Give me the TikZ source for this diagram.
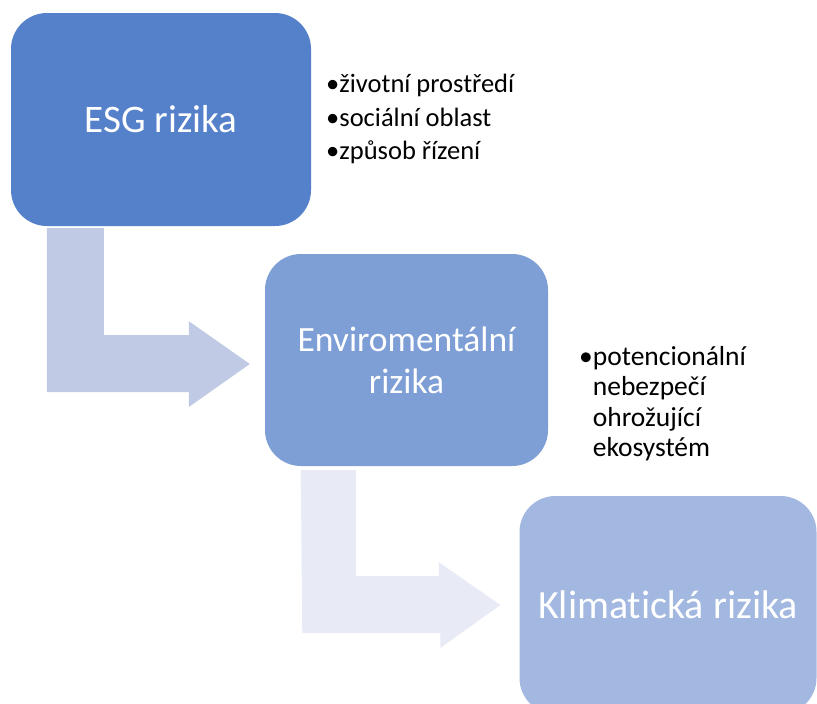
\documentclass[tikz,border=0pt]{standalone}
\usepackage{fontspec}
\setmainfont[Ligatures=NoCommon]{Carlito}
\usetikzlibrary{calc}
\definecolor{esgblue}{RGB}{85,129,202}
\definecolor{envblue}{RGB}{126,158,214}
\definecolor{klimablue}{RGB}{162,184,224}
\definecolor{arrowA}{RGB}{192,202,228}
\definecolor{arrowB}{RGB}{232,235,245}

\begin{document}
\begin{tikzpicture}[x=1pt,y=-1pt,
    box/.style={rounded corners=36pt, inner sep=0pt, text=white, align=center},
    bullets/.style={anchor=west, inner sep=0pt, align=left, text=black}]
    \clip (0,0) rectangle (817,704);
    \fill[white] (0,0) rectangle (817,704);
    % the three boxes
    \node[box, fill=esgblue, minimum width=300pt, minimum height=213pt,
        font=\fontsize{39}{46}\selectfont] (esg) at (161,119.5) {ESG rizika};
    \node[box, fill=envblue, minimum width=283pt, minimum height=212pt,
        font=\fontsize{35.5}{42}\selectfont] (env) at (406.5,360) {Enviromentální\\rizika};
    \node[box, fill=klimablue, minimum width=297pt, minimum height=218pt,
        font=\fontsize{40}{46}\selectfont] (klima) at (668,605) {Klimatická rizika};
    % bullet texts
    \node[bullets, font=\fontsize{26.5}{33.5}\selectfont] (esglist) at (326,119)
        {•životní prostředí\\•sociální oblast\\•způsob řízení};
    \node[bullets, font=\fontsize{27.5}{30.5}\selectfont] (envlist) at (579,403.5)
        {•potencionální\\\hphantom{•}nebezpečí\\\hphantom{•}ohrožující\\\hphantom{•}ekosystém};
    % bent arrows
    \fill[arrowA] ($(esg.south west)+(36,2)$) -- ++(57,0) -- ++(0,107) -- ++(85,0) -- ++(0,-14)
        -- ($(env.west)+(-15,4)$) -- ++(-61,43) -- ++(0,-15) -- ++(-142,0) -- cycle;
    \fill[arrowB] ($(env.south west)+(36,4)$) -- ++(55,0) -- ++(0,106) -- ++(83,0) -- ++(0,-14)
        -- ($(klima.west)+(-19,0)$) -- ++(-60,43) -- ++(0,-15) -- ++(-138,0) -- cycle;
\end{tikzpicture}
\end{document}
